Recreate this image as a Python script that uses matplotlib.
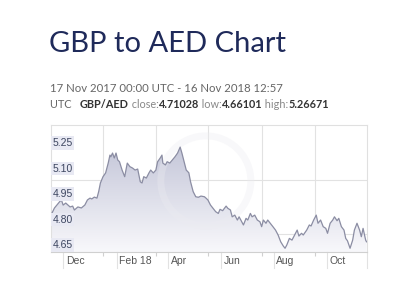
import matplotlib.pyplot as plt
import matplotlib.dates as mdates
from matplotlib.patches import Ellipse
from matplotlib.colors import LinearSegmentedColormap
import numpy as np

# days since 17 Nov 2017 and GBP/AED rate
days = [0, 4, 10, 12, 14, 17, 22, 25, 27, 31, 35, 39, 42, 45, 47, 50, 53, 55, 57, 60,
        63, 66, 68, 69, 71, 73, 75, 77, 79, 82, 85, 88, 91, 94, 97, 100, 103, 105, 107, 110,
        113, 115, 118, 121, 123, 126, 128, 129, 132, 134, 137, 140, 143, 146, 149, 151, 154, 156, 159, 161,
        164, 167, 170, 173, 177, 179, 181, 184, 187, 190, 193, 195, 198, 202, 204, 207, 209, 212, 215, 217,
        220, 222, 225, 227, 230, 232, 235, 238, 241, 243, 245, 248, 250, 253, 256, 259, 262, 265, 268, 270,
        272, 275, 278, 281, 284, 286, 289, 291, 295, 298, 300, 303, 306, 308, 311, 314, 317, 319, 322, 325,
        327, 330, 332, 335, 338, 340, 342, 345, 348, 350, 353, 356, 358, 360, 363, 364]
rate = [4.826, 4.868, 4.905, 4.915, 4.885, 4.897, 4.874, 4.879, 4.856, 4.874, 4.868, 4.885, 4.915, 4.926, 4.921, 4.932, 4.926, 4.964, 5.015, 5.052,
        5.074, 5.132, 5.179, 5.169, 5.191, 5.162, 5.191, 5.150, 5.140, 5.091, 5.052, 5.132, 5.111, 5.103, 5.091, 5.097, 5.022, 5.015, 5.052, 5.044,
        5.074, 5.091, 5.074, 5.091, 5.140, 5.162, 5.179, 5.132, 5.121, 5.140, 5.132, 5.150, 5.169, 5.191, 5.226, 5.191, 5.132, 5.091, 5.075, 5.022,
        4.964, 4.934, 4.931, 4.938, 4.934, 4.925, 4.915, 4.885, 4.866, 4.846, 4.836, 4.860, 4.852, 4.879, 4.866, 4.856, 4.816, 4.826, 4.797, 4.816,
        4.787, 4.768, 4.807, 4.797, 4.836, 4.816, 4.826, 4.797, 4.787, 4.758, 4.797, 4.778, 4.797, 4.778, 4.758, 4.738, 4.709, 4.669, 4.644, 4.631,
        4.650, 4.689, 4.679, 4.709, 4.738, 4.703, 4.719, 4.709, 4.738, 4.768, 4.762, 4.797, 4.826, 4.778, 4.797, 4.758, 4.748, 4.719, 4.778, 4.797,
        4.816, 4.793, 4.807, 4.758, 4.738, 4.689, 4.675, 4.631, 4.679, 4.738, 4.778, 4.738, 4.699, 4.748, 4.679, 4.669]

ytick_vals = [4.65, 4.80, 4.95, 5.10, 5.25]
ytick_labels = ['4.65', '4.80', '4.95', '5.10', '5.25']
month_starts = ['2017-12-01', '2018-02-01', '2018-04-01', '2018-06-01', '2018-08-01', '2018-10-01']
month_labels = ['Dec', 'Feb 18', 'Apr', 'Jun', 'Aug', 'Oct']
grid_dates = ['2018-01-16', '2018-03-18', '2018-05-17', '2018-07-18', '2018-09-17']
grid_vals = [4.715, 5.032]

start = np.datetime64('2017-11-17T00:00')
end = np.datetime64('2018-11-16T12:57')
dates = start + np.array(days).astype('timedelta64[D]')
x = mdates.date2num(dates)
y = np.array(rate)

plt.rcParams['font.family'] = ['Lato', 'DejaVu Sans']
axfont = ['Liberation Sans', 'DejaVu Sans']

fig = plt.figure(figsize=(4, 2.89), dpi=100)
ax = fig.add_axes([0.1275, 0.128, 0.79, 0.4395])
x0 = mdates.date2num(start)
x1 = mdates.date2num(end)
ymin, ymax = 4.609, 5.356
ax.set_xlim(x0, x1)
ax.set_ylim(ymin, ymax)

# gradient fill under the line
poly = ax.fill_between(x, y, ymin, color='none', lw=0)
grad = np.linspace(1, 0, 200).reshape(-1, 1)
cm = LinearSegmentedColormap.from_list('g', ['#f8f8fb', '#c3c5d8'])
im = ax.imshow(grad, cmap=cm, aspect='auto', extent=[x0, x1, ymin, 5.25],
               origin='upper', zorder=1)
im.set_clip_path(poly.get_paths()[0], transform=ax.transData)
ax.plot(x, y, color='#8b8da3', lw=0.9, zorder=3)

# faint xe watermark ring (axes is 316 x 127 px)
ring = Ellipse((0.49, 0.56), 90 / 316, 90 / 127, transform=ax.transAxes, fill=False,
               ec='#ececf1', lw=5, alpha=0.35, zorder=2)
ax.add_patch(ring)

for gv in grid_vals:
    ax.axhline(gv, color='#e2e2e2', lw=0.8, zorder=0.5)
for gd in grid_dates:
    ax.axvline(mdates.date2num(np.datetime64(gd)), color='#e2e2e2', lw=0.8, zorder=0.5)

for s in ax.spines.values():
    s.set_color('#e0e0e0')
    s.set_linewidth(0.8)
ax.spines['bottom'].set_color('#d0d0d0')
ax.set_xticks([mdates.date2num(np.datetime64(gd)) for gd in grid_dates])
ax.set_xticklabels([])
ax.tick_params(axis='x', length=3, color='#d0d0d0')
ax.set_yticks([])

for v, lab in zip(ytick_vals, ytick_labels):
    ax.text(x0 + 1.5, v, lab, fontsize=7.5, color='#3d4660', va='center', ha='left', zorder=5,
            family=axfont, bbox=dict(boxstyle='square,pad=0.15', fc='#e8e9f3', ec='none'))

# month separators and labels below the axis
for md, lab in zip(month_starts, month_labels):
    xm = mdates.date2num(np.datetime64(md))
    ax.plot([xm, xm], [0, -0.125], transform=ax.get_xaxis_transform(), color='#e2e2e2',
            lw=0.8, clip_on=False)
    ax.text(xm + 3, -0.07, lab, transform=ax.get_xaxis_transform(), fontsize=7.5,
            color='#555555', ha='left', va='center', family=axfont)
ax.plot([x1, x1], [0, -0.125], transform=ax.get_xaxis_transform(), color='#e2e2e2',
        lw=0.8, clip_on=False)

fig.text(0.122, 0.847, 'GBP to AED Chart', fontsize=21, color='#1f2a5a',
         va='center', ha='left')
fig.text(0.125, 0.695, '17 Nov 2017 00:00 UTC - 16 Nov 2018 12:57', fontsize=8.2,
         color='#666666', va='center', ha='left')

# second info line built piece by piece
parts = [('UTC   ', 'normal', '#666666'), ('GBP/AED', 'bold', '#333333'),
         (' close:', 'normal', '#888888'), ('4.71028', 'bold', '#333333'),
         (' low:', 'normal', '#888888'), ('4.66101', 'bold', '#333333'),
         (' high:', 'normal', '#888888'), ('5.26671', 'bold', '#333333')]
renderer = fig.canvas.get_renderer()
xp = 0.125 * 400
for txt, w, c in parts:
    t = fig.text(xp / 400, 0.64, txt, fontsize=7.8, fontweight=w, color=c,
                 va='center', ha='left')
    bb = t.get_window_extent(renderer=renderer)
    xp = bb.x1

fig.savefig('out.png', dpi=100, facecolor='white')
